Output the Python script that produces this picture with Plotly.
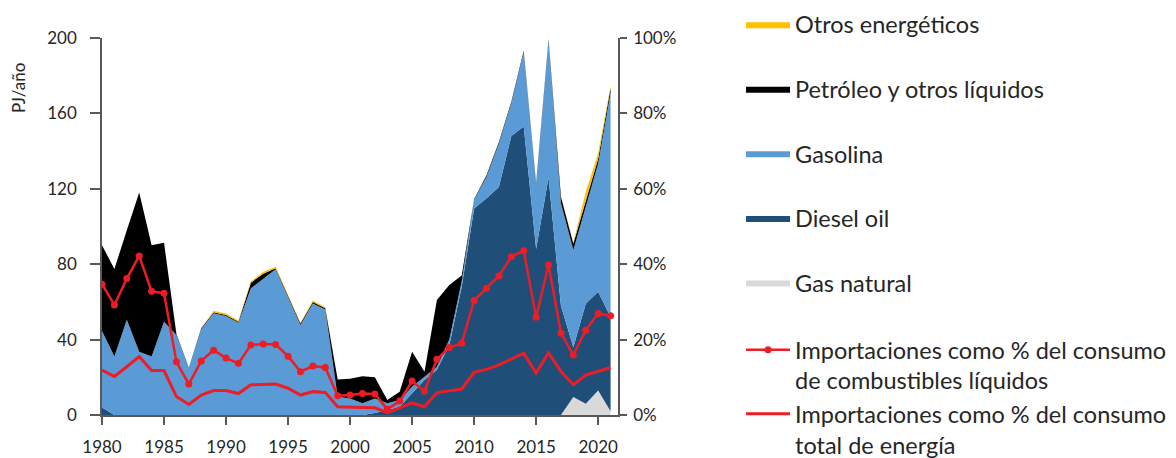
import plotly.graph_objects as go

years = list(range(1980, 2022))

gas_natural = [0, 0, 0, 0, 0, 0, 0, 0, 0, 0,
               0, 0, 0, 0, 0, 0, 0, 0, 0, 0,
               0, 0, 0, 0, 0, 0, 0, 0, 0, 0,
               0, 0, 0, 0, 0, 0, 0, 0, 9.5, 6,
               13, 2]
diesel = [4, 0, 0, 0, 0, 0, 0, 0, 0, 0,
          0, 0, 0, 0, 0, 0, 0, 0, 0, 0,
          0, 0, 1, 2.7, 4.4, 11.5, 18.6, 24, 37, 68,
          109.6, 115, 121, 148, 153, 88, 126, 58, 26.5, 53,
          52.4, 50]
gasolina = [40.5, 31, 50.5, 33.6, 31, 49.5, 42.5, 24.8, 45.5, 54,
            52.5, 49, 67.2, 72.5, 77.3, 62.5, 47.7, 59.2, 56, 9.7,
            8.8, 6.2, 7.8, 3.5, 3.6, 3.5, 1.7, 1.6, 3, 3,
            4.4, 11.4, 23, 17.4, 39.5, 34, 72.5, 54.3, 51.5, 52,
            68, 119]
petroleo = [45.5, 46.5, 47.5, 84.4, 59, 41.9, 0.5, 0.3, 0.5, 0.5,
            0.5, 0.5, 3, 2.5, 0.5, 0.8, 0.8, 0.8, 0.6, 9.1,
            10.4, 14.3, 11.2, 1.8, 4.4, 18.6, 2.7, 35.4, 29, 3,
            0.5, 0.8, 0.8, 0.8, 0.8, 1, 1, 3.5, 3.5, 2.5,
            2.5, 2.5]
otros = [0, 0, 0, 0, 0, 0, 0, 0, 0, 0.8,
         0.8, 0.6, 0.6, 1, 0.8, 0.5, 0.5, 0.8, 0.6, 0,
         0, 0, 0, 0, 0, 0, 0, 0, 0, 0,
         0, 0, 0, 0, 0, 0, 0, 0.3, 0.5, 5,
         3, 1]

# % values (0-100)
imp_liquidos = [34.7, 29.2, 36.2, 42.2, 32.8, 32.3, 14.1, 8.2, 14.3, 17.2,
                15.1, 13.7, 18.6, 18.8, 18.7, 15.6, 11.5, 13.0, 12.6, 5.1,
                5.3, 5.7, 5.6, 1.5, 3.7, 9.0, 6.3, 14.8, 17.9, 19.0,
                30.4, 33.6, 36.9, 42.0, 43.6, 25.9, 39.8, 21.7, 15.9, 22.5,
                26.9, 26.3]
imp_total = [11.9, 10.2, 12.8, 15.5, 11.8, 11.8, 4.9, 2.8, 5.3, 6.5,
             6.5, 5.7, 8.0, 8.2, 8.2, 7.1, 5.3, 6.2, 6.0, 2.2,
             2.2, 2.0, 1.9, 0.6, 1.9, 3.2, 2.2, 5.9, 6.4, 6.9,
             11.3, 12.1, 13.3, 14.9, 16.4, 11.1, 16.5, 11.5, 8.0, 10.6,
             11.5, 12.6]

x_ticks = [1980, 1985, 1990, 1995, 2000, 2005, 2010, 2015, 2020]
y_ticks = [0, 40, 80, 120, 160, 200]
y2_ticks = [0, 20, 40, 60, 80, 100]
y2_labels = ["0%", "20%", "40%", "60%", "80%", "100%"]

FONT = "Lato"
TXT = "#262626"
AX = "#595959"

fig = go.Figure()

areas = [
    ("Gas natural", gas_natural, "#D9D9D9", 5),
    ("Diesel oil", diesel, "#1F4E79", 4),
    ("Gasolina", gasolina, "#5B9BD5", 3),
    ("Petróleo y otros líquidos", petroleo, "#000000", 2),
    ("Otros energéticos", otros, "#FFC000", 1),
]
for name, vals, col, rank in areas:
    fig.add_trace(go.Scatter(
        x=years, y=vals, name=name, stackgroup="one", mode="lines",
        line=dict(width=0, color=col), fillcolor=col,
        legendgroup=name, legendrank=rank, legend="legend",
    ))

fig.add_trace(go.Scatter(
    x=years, y=imp_total, yaxis="y2", mode="lines",
    name="Importaciones como % del consumo<br>total de energía",
    line=dict(color="#EE1C25", width=3),
    legend="legend2", legendrank=2, legendgroup="tot",
))
fig.add_trace(go.Scatter(
    x=years, y=imp_liquidos, yaxis="y2", mode="lines+markers",
    name="Importaciones como % del consumo<br>de combustibles líquidos",
    line=dict(color="#EE1C25", width=2.5),
    marker=dict(size=7, color="#EE1C25"),
    legend="legend2", legendrank=1, legendgroup="liq",
))

# The page body adds an 8px offset, so the figure is 8px smaller each way.
fig.update_layout(
    template="none",
    width=1168, height=450,
    margin=dict(l=94, r=558, t=30, b=43, pad=0),
    paper_bgcolor="white", plot_bgcolor="white",
    font=dict(family=FONT, size=17, color=TXT),
    showlegend=True,
    xaxis=dict(
        range=[1980, 2021.6], tickvals=x_ticks, showgrid=False, zeroline=False,
        showline=True, linecolor=AX, linewidth=1.5, ticks="outside",
        ticklen=8, tickcolor=AX, tickwidth=1.5, tickfont=dict(size=17, color=TXT),
        ticklabelstandoff=8, automargin=False,
    ),
    yaxis=dict(
        range=[0, 200], tickvals=y_ticks, showgrid=False, zeroline=False,
        showline=True, linecolor=AX, linewidth=1.5, ticks="outside",
        ticklen=10, tickcolor=AX, tickwidth=1.5, tickfont=dict(size=17, color=TXT),
        ticklabelstandoff=10, automargin=False,
    ),
    yaxis2=dict(
        range=[0, 100], tickvals=y2_ticks, ticktext=y2_labels, overlaying="y",
        side="right", showgrid=False, zeroline=False, showline=True,
        linecolor=AX, linewidth=1.5, ticks="outside", ticklen=7,
        tickcolor=AX, tickwidth=1.5, tickfont=dict(size=17, color=TXT),
        ticklabelstandoff=3, automargin=False,
    ),
    legend=dict(
        xref="container", yref="container",
        x=0.6276, xanchor="left", y=0.3412, yanchor="bottom",
        tracegroupgap=31, font=dict(size=23.5, color=TXT),
        bgcolor="rgba(0,0,0,0)", itemwidth=44, maxheight=1.0,
    ),
    legend2=dict(
        xref="container", yref="container",
        x=0.6276, xanchor="left", y=0.2889, yanchor="top",
        tracegroupgap=0, font=dict(size=23.5, color=TXT),
        bgcolor="rgba(0,0,0,0)", itemwidth=44, valign="top", maxheight=1.0,
    ),
    annotations=[dict(
        text="PJ/año", xref="paper", yref="paper", x=-0.163, y=0.867,
        xanchor="center", yanchor="middle", textangle=-90, showarrow=False,
        font=dict(size=17, color=TXT),
    )],
)

fig.write_html("out.html")
